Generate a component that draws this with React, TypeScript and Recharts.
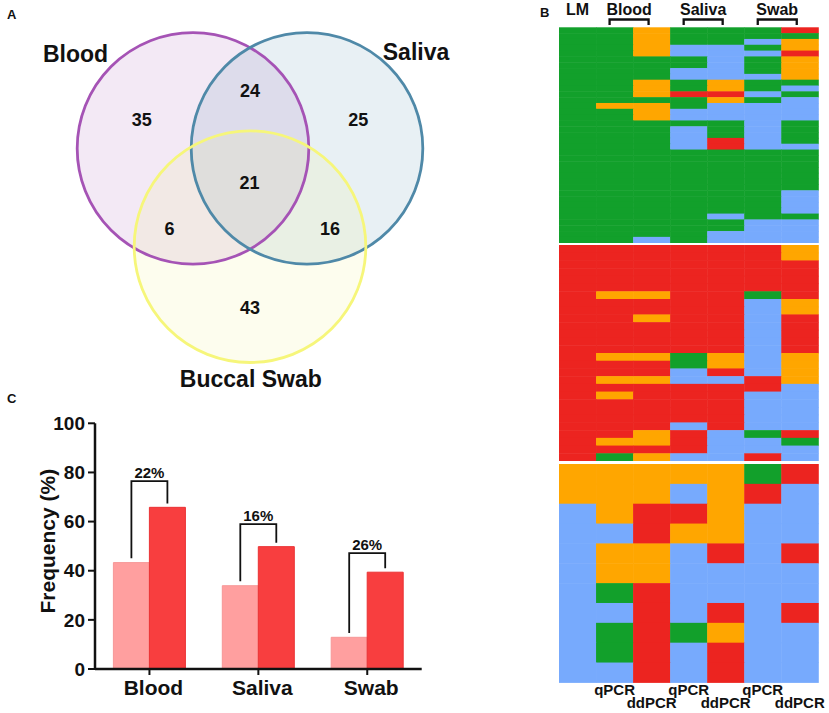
import React from "react";
import { ScatterChart, Scatter, BarChart, Bar, XAxis, YAxis, Rectangle } from "recharts";

const FONT = '"Liberation Sans", Arial, Helvetica, sans-serif';

// ---- A: Venn diagram ----
const vennSets = ["Blood", "Saliva", "Buccal Swab"];
const vennRegions = ["Blood", "Blood+Saliva", "Saliva", "All", "Blood+Swab", "Saliva+Swab", "Swab"];
const vennCounts = [35, 24, 25, 21, 6, 16, 43];

// ---- B: heatmap (LM, Blood qPCR/ddPCR, Saliva qPCR/ddPCR, Swab qPCR/ddPCR) ----
// G = green, O = orange, B = blue, R = red
const headerLabels = ["LM", "Blood", "Saliva", "Swab"];
const footerLabels = ["qPCR", "ddPCR", "qPCR", "ddPCR", "qPCR", "ddPCR"];

const topRows = [
  "GGOGGGR", "GGOGGGG", "GGOGGBO", "GGOBBGO", "GGOBBBR", "GGGGBGO", "GGGGBGO", "GGGBBGO",
  "GGGBBBO", "GGOGOGG", "GGOGOGB", "GGORRBG", "GGGGOGB", "GOOGBBB", "GGOBBBB", "GGOBBBB",
  "GGGGGBG", "GGGBGBG", "GGGBGBG", "GGGBRBG", "GGGBRBB", "GGGGGGG", "GGGGGGG", "GGGGGGG",
  "GGGGGGG", "GGGGGGG", "GGGGGGG", "GGGGGGG", "GGGGGGB", "GGGGGGB", "GGGGGGB", "GGGGGGB",
  "GGGGBGG", "GGGGGBB", "GGGGGBB", "GGGGBBB", "GGBGBBB",
];
const midRows = [
  "RRRRRRO", "RRRRRRO", "RRRRRRR", "RRRRRRR", "RRRRRRR", "RRRRRRR", "ROORRGR", "RRRRRBO",
  "RRRRRBO", "RRORRBR", "RRRRRBR", "RRRRRBR", "RRRRRBR", "RRRRRBR", "ROOGOBO", "RRRGOBO",
  "RRRBRBO", "ROOBBRO", "RRRRRRB", "RORRRBB", "RRRRRBB", "RRRRRBB", "RRRRRBB", "RRRBRBB",
  "RRORBGR", "ROORBBG", "RRRRBBB", "RGOBBRB",
];
const botRows = [
  "OOOOOGR", "OOOBORB", "BORROBB", "BBROOBB", "BOOBRBR", "BOOBBBB",
  "BGRBBBB", "BBRBRBR", "BGRGOBB", "BGRBRBB", "BBRBRBB",
];

// ---- C: bar chart ----
const barCategories = ["Blood", "Saliva", "Swab"];
const qpcrFreq = [43.3, 33.9, 12.9];
const ddpcrFreq = [65.8, 49.8, 39.4];
const gainLabels = ["22%", "16%", "26%"];
const bracketLevels = [76.5, 59, 47.2];

const CELL_COLORS: Record<string, string> = {
  G: "#12a02b",
  O: "#ffa600",
  B: "#77aafd",
  R: "#ec2420",
};

// venn geometry (drawing units = pixels of the venn box)
const VENN_W = 460;
const VENN_H = 400;
const circleGeom = [
  { x: 193, y: 148.4, r: 115.8, stroke: "#a553b5", fill: "#a553b5" },
  { x: 307, y: 148.4, r: 115.8, stroke: "#4f89a8", fill: "#4f89a8" },
  { x: 250, y: 246.7, r: 115.8, stroke: "#f6f67a", fill: "#f2f27a" },
];
const regionPos = [
  [141.7, 120], [250, 90.7], [358.3, 119.5], [249.5, 182.7], [169.5, 229], [330, 229], [250, 307.3],
];
const namePos = [
  [75.5, 61.7], [416, 60], [250.8, 386.7],
];

const circleData = circleGeom.map((c, i) => ({ x: c.x, y: c.y, r: c.r, name: vennSets[i], i }));
const countData = vennCounts.map((v, i) => ({ x: regionPos[i][0], y: regionPos[i][1], v, region: vennRegions[i] }));
const nameData = vennSets.map((n, i) => ({ x: namePos[i][0], y: namePos[i][1], n }));

const CircleFill = (p: any) => {
  const g = circleGeom[p.payload.i];
  return <circle cx={p.cx} cy={p.cy} r={p.payload.r} fill={g.fill} fillOpacity={0.13} stroke="none" />;
};
const CircleStroke = (p: any) => {
  const g = circleGeom[p.payload.i];
  return <circle cx={p.cx} cy={p.cy} r={p.payload.r} fill="none" stroke={g.stroke} strokeWidth={2.8} />;
};
const CountText = (p: any) => (
  <text x={p.cx} y={p.cy} dy="0.36em" textAnchor="middle" fontFamily={FONT} fontWeight={700} fontSize={18} fill="#111">
    {p.payload.v}
  </text>
);
const NameText = (p: any) => (
  <text x={p.cx} y={p.cy} textAnchor="middle" fontFamily={FONT} fontWeight={700} fontSize={23} fill="#111">
    {p.payload.n}
  </text>
);

function Venn() {
  return (
    <ScatterChart width={VENN_W} height={VENN_H} margin={{ top: 0, right: 0, bottom: 0, left: 0 }}>
      <XAxis type="number" dataKey="x" domain={[0, VENN_W]} hide />
      <YAxis type="number" dataKey="y" domain={[0, VENN_H]} reversed hide />
      <Scatter data={circleData} shape={CircleFill} isAnimationActive={false} />
      <Scatter data={circleData} shape={CircleStroke} isAnimationActive={false} />
      <Scatter data={countData} shape={CountText} isAnimationActive={false} />
      <Scatter data={nameData} shape={NameText} isAnimationActive={false} />
    </ScatterChart>
  );
}

// heatmap layout
const HEAT_LEFT = 559;
const HEAT_W = 259.3;
const N_COLS = 7;
const panels = [
  { rows: topRows, top: 27.3, height: 215.4 },
  { rows: midRows, top: 245, height: 216 },
  { rows: botRows, top: 464.3, height: 218.4 },
];
const HEADER_H = 27.3;
const FOOTER_H = 30;

const toCells = (rows: string[]) =>
  rows.flatMap((row, r) => row.split("").map((c, col) => ({ x: col + 0.5, y: r + 0.5, c })));

const makeCellShape = (cw: number, rh: number) => (p: any) => (
  <rect x={p.cx - cw / 2} y={p.cy - rh / 2} width={cw + 0.5} height={rh + 0.5} fill={CELL_COLORS[p.payload.c]} />
);

const headerTicks = [0.5, 2, 4, 6];
const HeaderTick = (p: any) => {
  const i = headerTicks.indexOf(p.payload.value);
  const cx = p.x - (i === 0 ? 0 : 4);
  return (
    <g>
      <text x={cx} y={15} textAnchor="middle" fontFamily={FONT} fontWeight={700} fontSize={16} fill="#111">
        {headerLabels[i]}
      </text>
      {i > 0 && (
        <path d={`M${cx - 19.5},25V19.5H${cx + 19.5}V25`} fill="none" stroke="#111" strokeWidth={2.3} />
      )}
    </g>
  );
};

const footerTicks = [1.5, 2.5, 3.5, 4.5, 5.5, 6.5];
const FooterTick = (p: any) => {
  const i = footerTicks.indexOf(p.payload.value);
  const base = panels[2].height;
  return (
    <text x={p.x} y={base + (i % 2 === 0 ? 12.8 : 25.4)} textAnchor="middle" fontFamily={FONT} fontWeight={700} fontSize={15} fill="#111">
      {footerLabels[i]}
    </text>
  );
};

function HeatPanel({ idx }: { idx: number }) {
  const pnl = panels[idx];
  const n = pnl.rows.length;
  const withHeader = idx === 0;
  const withFooter = idx === panels.length - 1;
  const height = pnl.height + (withHeader ? HEADER_H : 0) + (withFooter ? FOOTER_H : 0);
  const shape = makeCellShape(HEAT_W / N_COLS, pnl.height / n);
  return (
    <div style={{ position: "absolute", left: HEAT_LEFT, top: pnl.top - (withHeader ? HEADER_H : 0) }}>
      <ScatterChart width={HEAT_W + 12} height={height} margin={{ top: 0, right: 12, bottom: 0, left: 0 }}>
        {withHeader ? (
          <XAxis
            type="number"
            dataKey="x"
            domain={[0, N_COLS]}
            orientation="top"
            height={HEADER_H}
            ticks={headerTicks}
            interval={0}
            axisLine={false}
            tickLine={false}
            tick={HeaderTick}
          />
        ) : withFooter ? (
          <XAxis
            type="number"
            dataKey="x"
            domain={[0, N_COLS]}
            height={FOOTER_H}
            ticks={footerTicks}
            interval={0}
            axisLine={false}
            tickLine={false}
            tick={FooterTick}
          />
        ) : (
          <XAxis type="number" dataKey="x" domain={[0, N_COLS]} hide />
        )}
        <YAxis type="number" dataKey="y" domain={[0, n]} reversed hide />
        <Scatter data={toCells(pnl.rows)} shape={shape} isAnimationActive={false} />
      </ScatterChart>
    </div>
  );
}

// bar chart
const barData = barCategories.map((cat, i) => ({
  cat,
  qpcr: qpcrFreq[i],
  ddpcr: ddpcrFreq[i],
  gain: gainLabels[i],
  bracket: bracketLevels[i],
}));

const DdpcrBar = (p: any) => {
  const { x, y, width, height, payload } = p;
  const base = y + height;
  const ppu = height / payload.ddpcr;
  const lx = x - width / 2;
  const rx = x + width / 2;
  const topY = base - payload.bracket * ppu;
  const lEnd = base - (payload.qpcr + 1.8) * ppu;
  const rEnd = base - (payload.ddpcr + 1.6) * ppu;
  return (
    <g>
      <Rectangle x={x} y={y} width={width} height={height} fill="#f83e3f" stroke="#ea3234" strokeWidth={1} />
      <path d={`M${lx},${lEnd}V${topY}H${rx}V${rEnd}`} fill="none" stroke="#111" strokeWidth={1.8} />
      <text x={(lx + rx) / 2} y={topY - 3} textAnchor="middle" fontFamily={FONT} fontWeight={700} fontSize={15} fill="#111">
        {payload.gain}
      </text>
    </g>
  );
};

const axisText = { fill: "#111", fontFamily: FONT, fontWeight: 700 };

function FreqChart() {
  return (
    <BarChart
      width={440}
      height={313}
      data={barData}
      margin={{ top: 23.3, right: 18.3, bottom: 0, left: 0 }}
      barCategoryGap={18.4}
      barGap={0}
    >
      <XAxis
        dataKey="cat"
        height={44}
        tickSize={6}
        tickMargin={5}
        axisLine={{ stroke: "#111", strokeWidth: 2.5 }}
        tickLine={{ stroke: "#111", strokeWidth: 2 }}
        tick={{ ...axisText, fontSize: 21, dx: 4 }}
      />
      <YAxis
        width={95}
        domain={[0, 100]}
        ticks={[0, 20, 40, 60, 80, 100]}
        tickSize={7}
        tickMargin={3}
        axisLine={{ stroke: "#111", strokeWidth: 2.5 }}
        tickLine={{ stroke: "#111", strokeWidth: 2 }}
        tick={{ ...axisText, fontSize: 19 }}
        label={{
          value: "Frequency (%)",
          angle: -90,
          position: "insideLeft",
          offset: 48,
          dy: -5,
          style: { textAnchor: "middle", fontSize: 21, fontWeight: 700, fill: "#111", fontFamily: FONT },
        }}
      />
      <Bar dataKey="qpcr" fill="#ff9f9f" stroke="#f79797" strokeWidth={1} isAnimationActive={false} />
      <Bar dataKey="ddpcr" shape={DdpcrBar} isAnimationActive={false} />
    </BarChart>
  );
}

const letterStyle: React.CSSProperties = {
  position: "absolute",
  fontFamily: FONT,
  fontWeight: 700,
  fontSize: 13,
  color: "#111",
  lineHeight: "13px",
};

export default function App() {
  return (
    <div style={{ position: "relative", width: 829, height: 713, background: "#fff", overflow: "hidden" }}>
      <style>{"body{margin:0;}"}</style>
      <div style={{ position: "absolute", left: 0, top: 0 }}>
        <Venn />
      </div>
      {panels.map((_, i) => (
        <HeatPanel key={i} idx={i} />
      ))}
      <div style={{ position: "absolute", left: 0, top: 400 }}>
        <FreqChart />
      </div>
      <div style={{ ...letterStyle, left: 7, top: 8 }}>A</div>
      <div style={{ ...letterStyle, left: 540, top: 6 }}>B</div>
      <div style={{ ...letterStyle, left: 7, top: 392 }}>C</div>
    </div>
  );
}
